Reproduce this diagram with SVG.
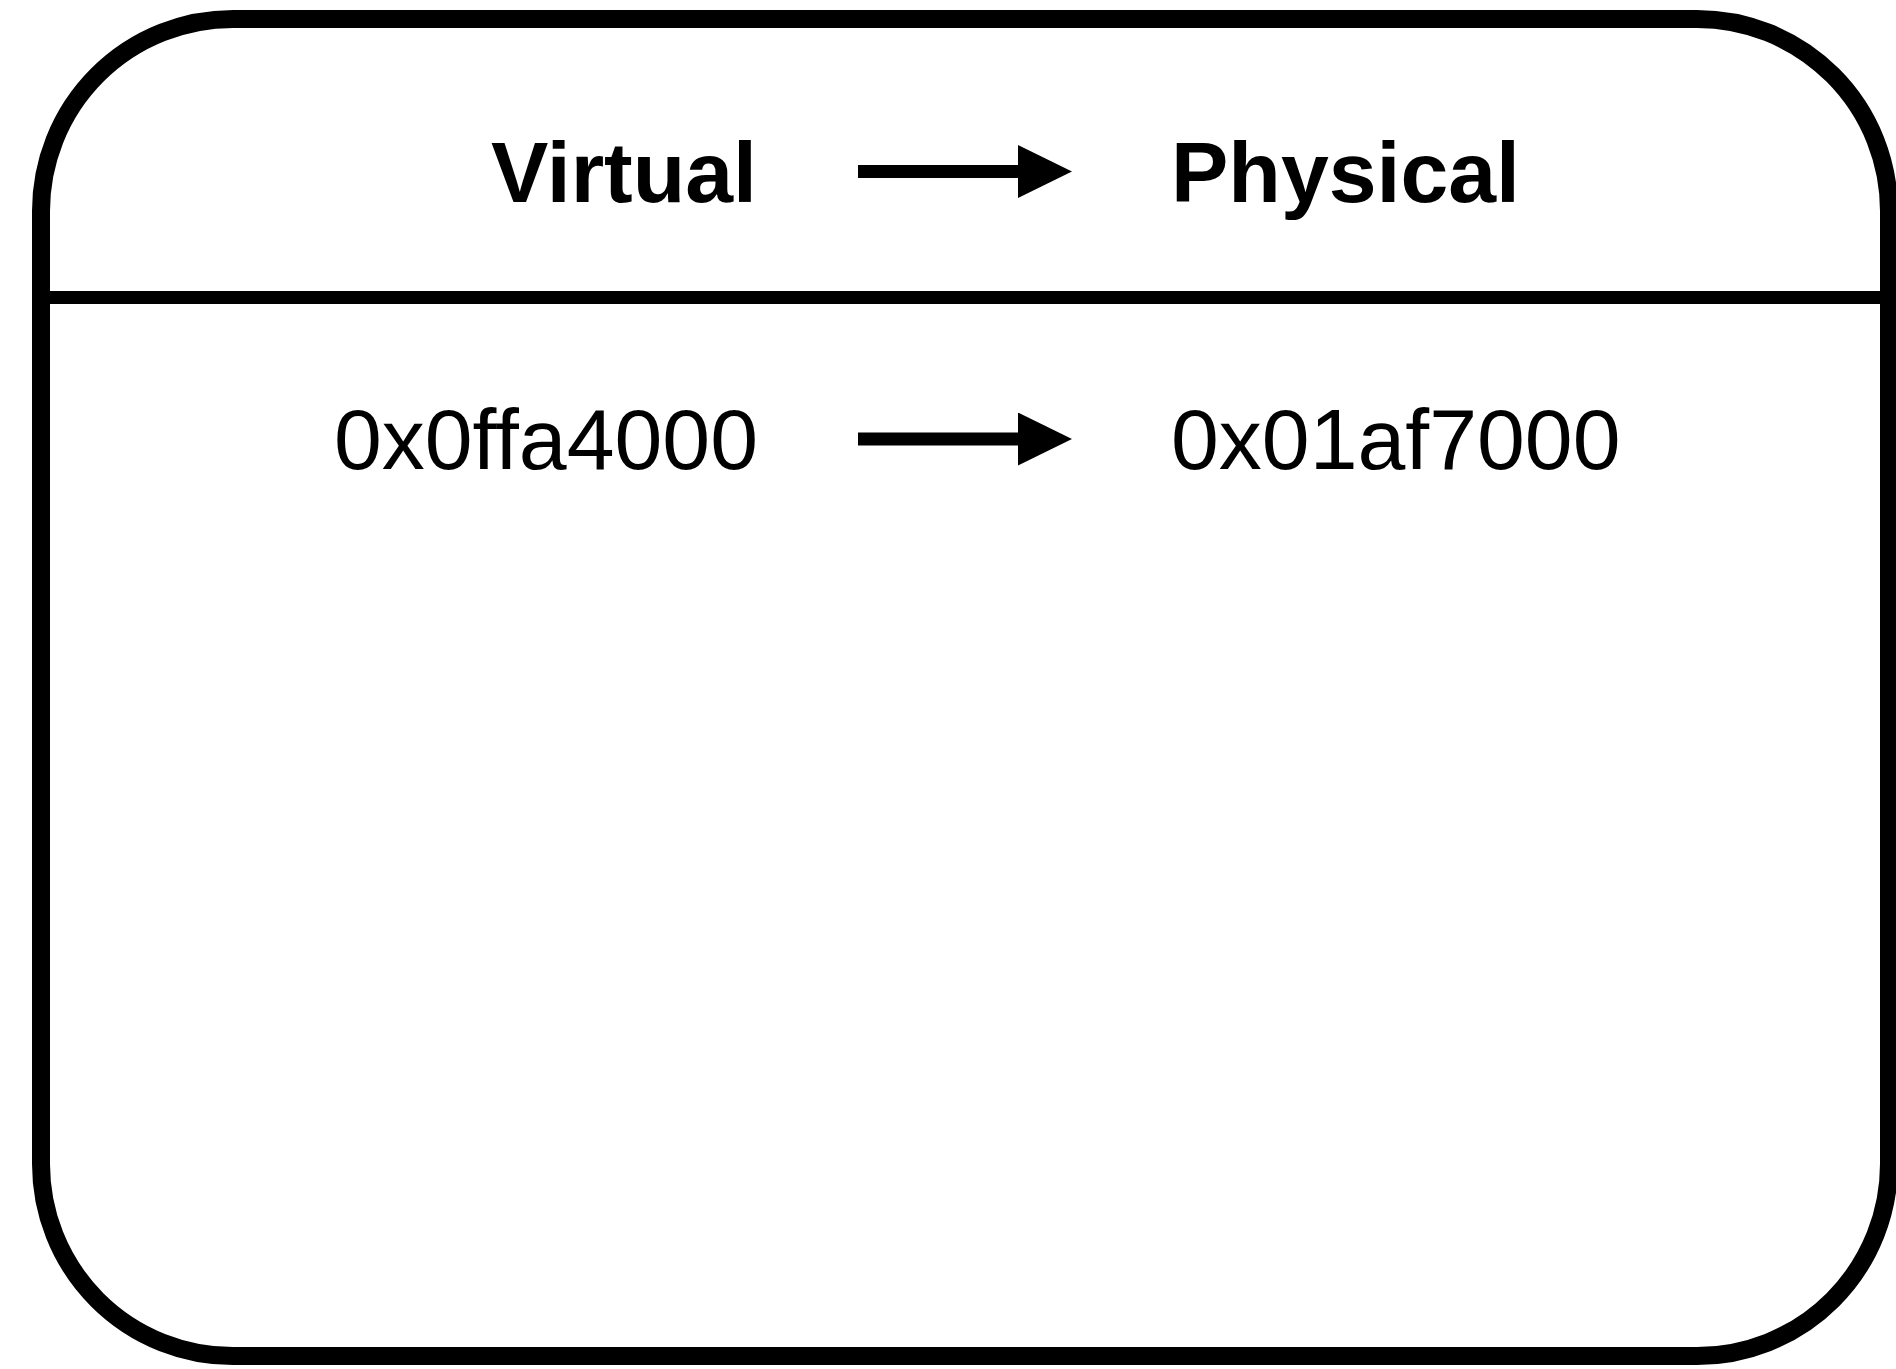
<svg xmlns="http://www.w3.org/2000/svg" width="1896" height="1369" viewBox="0 0 1896 1369">
  <style>
    .frame { fill: #ffffff; stroke: #000000; stroke-width: 18; }
    .divider { stroke: #000000; stroke-width: 13; }
    .hdr { font-family: "Liberation Sans", Arial, sans-serif; font-size: 86px; font-weight: bold; fill: #000000; }
    .val { font-family: "Liberation Sans", Arial, sans-serif; font-size: 86px; fill: #000000; }
    .conn { stroke: #000000; stroke-width: 13; fill: none; }
  </style>
  <defs>
    <marker id="arrowhead" markerUnits="userSpaceOnUse" markerWidth="54" markerHeight="53" viewBox="0 0 54 53" refX="1" refY="26.5" orient="auto">
      <path d="M0,0 L54,26.5 L0,53 Z" fill="#000000"/>
    </marker>
  </defs>
  <rect x="0" y="0" width="1896" height="1369" fill="#ffffff"/>
  <g id="table">
    <rect class="frame" x="41" y="19" width="1848" height="1337" rx="192" ry="192"/>
    <line class="divider" x1="41" y1="297.5" x2="1889" y2="297.5"/>
  </g>
  <g id="header-virtual">
    <text class="hdr" x="757" y="202" text-anchor="end">Virtual</text>
  </g>
  <g id="header-physical">
    <text class="hdr" x="1171" y="202">Physical</text>
  </g>
  <g id="row-virtual">
    <text class="val" x="758" y="469" text-anchor="end">0x0ffa4000</text>
  </g>
  <g id="row-physical">
    <text class="val" x="1171" y="469">0x01af7000</text>
  </g>
  <g id="connectors">
    <line class="conn" x1="858" y1="171.5" x2="1019" y2="171.5" marker-end="url(#arrowhead)"/>
    <line class="conn" x1="858" y1="439" x2="1019" y2="439" marker-end="url(#arrowhead)"/>
  </g>
</svg>
